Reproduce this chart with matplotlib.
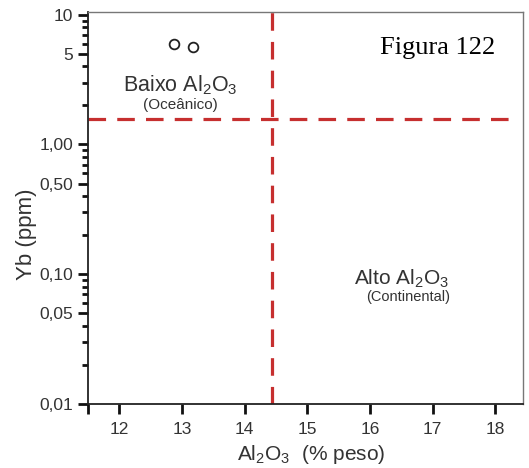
import matplotlib.pyplot as plt
from matplotlib.ticker import FixedLocator, LogLocator, NullFormatter

plt.rcParams["font.family"] = ["Liberation Sans", "DejaVu Sans"]
plt.rcParams["mathtext.fontset"] = "custom"
plt.rcParams["mathtext.rm"] = "Liberation Sans"
plt.rcParams["mathtext.it"] = "Liberation Sans"

# samples (Al2O3 wt%, Yb ppm)
al2o3 = [12.87, 13.18]
yb = [5.9, 5.6]

# field boundaries
al_split = 14.43
yb_split = 1.58

yticks = [0.01, 0.05, 0.10, 0.50, 1.00, 5, 10]
ytick_labels = ["0,01", "0,05", "0,10", "0,50", "1,00", "5", "10"]
xticks = [11.5, 12, 13, 14, 15, 16, 17, 18]
xtick_labels = ["", "12", "13", "14", "15", "16", "17", "18"]

TXT = "#333333"
RED = "#c62f2f"

fig = plt.figure(figsize=(5.29, 4.68), dpi=100)
ax = fig.add_axes([88 / 529, 64 / 468, (523 - 88) / 529, (404 - 12) / 468])

ax.set_yscale("log")
ax.set_xlim(11.5, 18.44)
ax.set_ylim(0.01, 10.5)

ax.plot(al2o3, yb, "o", ms=7, mfc="white", mec="#222222", mew=1.3, zorder=3)

ax.axvline(al_split, color=RED, lw=2.3, dashes=(5.5, 3.5))
ax.axhline(yb_split, xmax=0.985, color=RED, lw=2.3, dashes=(5.5, 3.5))

ax.yaxis.set_major_locator(FixedLocator(yticks))
ax.set_yticklabels(ytick_labels)
ax.yaxis.set_minor_locator(LogLocator(base=10, subs=[2, 3, 4, 6, 7, 8, 9]))
ax.yaxis.set_minor_formatter(NullFormatter())
ax.set_xticks(xticks)
ax.set_xticklabels(xtick_labels)

ax.tick_params(axis="both", which="major", labelsize=12.5, labelcolor=TXT,
               width=2, length=7, color="#111111")
ax.tick_params(axis="x", which="major", pad=6)
ax.tick_params(axis="y", which="minor", width=2, length=4, color="#111111")

for side in ["left", "bottom"]:
    ax.spines[side].set_linewidth(1.3)
    ax.spines[side].set_color("#222222")
for side in ["top", "right"]:
    ax.spines[side].set_linewidth(1.0)
    ax.spines[side].set_color("#777777")

ax.set_xlabel(r"Al$_2$O$_3$  (% peso)", fontsize=15, color=TXT)
ax.xaxis.set_label_coords((311 - 88) / 435, -(443 - 404) / 392)
ax.set_ylabel("Yb (ppm)", fontsize=16, color=TXT)
ax.yaxis.set_label_coords((37 - 88) / 435, (404 - 234) / 392)

ax.text(12.98, 2.85, r"Baixo Al$_2$O$_3$", fontsize=15.5, color=TXT, ha="center", va="center")
ax.text(12.98, 2.0, "(Oceânico)", fontsize=11, color=TXT, ha="center", va="center")
ax.text(16.5, 0.092, r"Alto Al$_2$O$_3$", fontsize=15, color=TXT, ha="center", va="center")
ax.text(16.6, 0.067, "(Continental)", fontsize=10.5, color=TXT, ha="center", va="center")

ax.text(17.07, 5.5, "Figura 122", fontsize=19, color="black", ha="center", va="center",
        family="Liberation Serif")

fig.savefig("out.png", dpi=100)
